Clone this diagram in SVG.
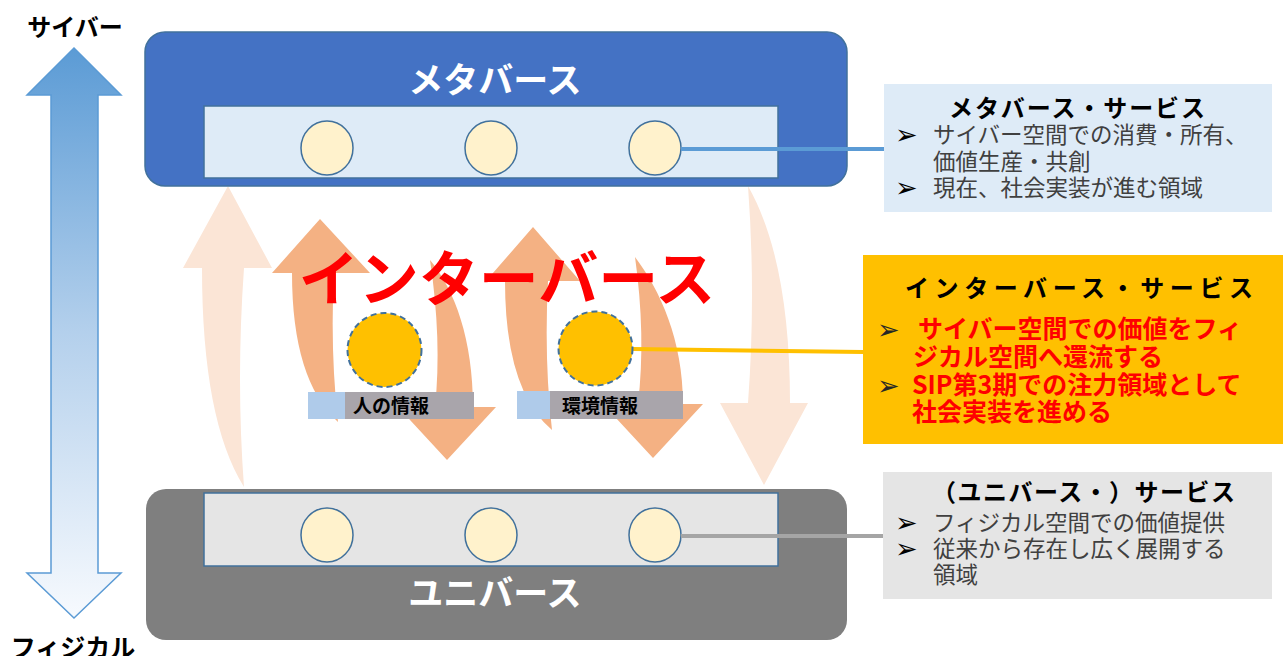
<svg xmlns="http://www.w3.org/2000/svg" width="1283" height="656" viewBox="0 0 1283 656">
<defs>
<linearGradient id="axisGrad" x1="0" y1="0" x2="0" y2="1">
<stop offset="0" stop-color="#5B9BD5"/>
<stop offset="0.5" stop-color="#B4D0EC"/>
<stop offset="1" stop-color="#F7FAFE"/>
</linearGradient>
<style>
.jp{font-family:"Noto Sans CJK JP","Noto Sans",sans-serif;}
.bul{font-family:"DejaVu Sans",sans-serif;font-size:27px;}
.pale{fill:#FBE5D6;}
.orng{fill:#F4B183;}
.soft{fill:#FFF2CC;stroke:#41719C;stroke-width:1.5;}
.info{fill:#FFC000;stroke:#41719C;stroke-width:2;stroke-dasharray:6 4;}
.ttl{font-weight:bold;font-size:24px;fill:#000;}
.body{font-size:22.5px;fill:#404040;}
.red{font-weight:bold;font-size:25px;fill:#FF0000;}
</style>
</defs>
<rect width="1283" height="656" fill="#FFFFFF"/>

<g id="axis">
<path d="M74,48 L121,95 L98,95 L98,573 L121,573 L74,618 L27,573 L51,573 L51,95 L27,95 Z" fill="url(#axisGrad)" stroke="#5B9BD5" stroke-width="1.5"/>
<text class="jp" x="75" y="36" text-anchor="middle" font-size="24" font-weight="bold" fill="#000">サイバー</text>
<text class="jp" x="73" y="657" text-anchor="middle" font-size="25" font-weight="bold" fill="#000">フィジカル</text>
</g>

<g id="flows">
<path class="pale" d="M228,186 L272,268 L244,268 Q236,380 244,487 Q202,420 202,268 L183,268 Z"/>
<path class="pale" d="M748,186 Q790,260 790,403 L808,403 L764,485 L720,403 L748,403 Q756,295 748,186 Z"/>
<path class="orng" d="M320,219 L370,273 L334,273 Q330,350 338,422 Q292,380 292,273 L272,273 Z"/>
<path class="orng" d="M430,260 C455,290 473,340 473,407 L496,407 L447,460 L398,407 L435,407 Q442,340 430,260 Z"/>
<path class="orng" d="M533,227 L580,281 L548,281 Q544,360 552,430 Q505,390 505,281 L486,281 Z"/>
<path class="orng" d="M635,257 C660,290 683,340 683,404 L703,404 L653,458 L603,404 L638,404 Q646,335 635,257 Z"/>
</g>

<g id="metaverse">
<rect x="145" y="32" width="702" height="154" rx="20" ry="20" fill="#4472C4" stroke="#41719C" stroke-width="1.5"/>
<text class="jp" x="495" y="93" text-anchor="middle" font-size="35" font-weight="bold" fill="#FFFFFF">メタバース</text>
<rect x="204" y="106" width="574" height="72" fill="#DEEBF7" stroke="#41719C" stroke-width="1.5"/>
<ellipse class="soft" cx="327" cy="148" rx="26" ry="27"/>
<ellipse class="soft" cx="491" cy="148" rx="26" ry="27"/>
<ellipse class="soft" cx="655" cy="148" rx="26" ry="27"/>
</g>

<g id="universe">
<rect x="146" y="489" width="701" height="151" rx="20" ry="20" fill="#7F7F7F"/>
<rect x="204" y="493" width="574" height="73" fill="#E5E5E5" stroke="#41719C" stroke-width="1.5"/>
<ellipse class="soft" cx="327" cy="535" rx="26" ry="27"/>
<ellipse class="soft" cx="491" cy="535" rx="26" ry="27"/>
<ellipse class="soft" cx="655" cy="535" rx="26" ry="27"/>
<text class="jp" x="495" y="606" text-anchor="middle" font-size="35" font-weight="bold" fill="#FFFFFF">ユニバース</text>
</g>

<g id="connectors">
<line x1="681" y1="149" x2="884" y2="149" stroke="#5B9BD5" stroke-width="4"/>
<line x1="633" y1="349" x2="863" y2="352" stroke="#FFC000" stroke-width="4"/>
<line x1="681" y1="536" x2="884" y2="536" stroke="#A5A5A5" stroke-width="4"/>
</g>

<g id="interverse-title">
<text class="jp" x="507" y="301" text-anchor="middle" font-size="60" font-weight="bold" fill="#FF0000">インターバース</text>
</g>

<g id="human-info">
<circle class="info" cx="384.5" cy="350" r="37"/>
<rect x="308" y="392" width="37" height="27" fill="#AFCBEA"/>
<rect x="345" y="392" width="129" height="27" fill="#A9A5AB"/>
<text class="jp" x="391" y="413" text-anchor="middle" font-size="19" font-weight="bold" fill="#000">人の情報</text>
</g>

<g id="env-info">
<circle class="info" cx="595.5" cy="348.5" r="37"/>
<rect x="517" y="391" width="33" height="28" fill="#AFCBEA"/>
<rect x="550" y="391" width="133" height="28" fill="#A9A5AB"/>
<text class="jp" x="600" y="413" text-anchor="middle" font-size="19" font-weight="bold" fill="#000">環境情報</text>
</g>

<g id="metaverse-service">
<rect x="884" y="84" width="388" height="128" fill="#DEEBF7"/>
<text class="jp ttl" x="949" y="117" textLength="256" lengthAdjust="spacing">メタバース・サービス</text>
<text class="bul" x="895" y="144" fill="#000">➢</text>
<text class="jp body" x="933" y="143">サイバー空間での消費・所有、</text>
<text class="jp body" x="933" y="170">価値生産・共創</text>
<text class="bul" x="895" y="197" fill="#000">➢</text>
<text class="jp body" x="933" y="196">現在、社会実装が進む領域</text>
</g>

<g id="interverse-service">
<rect x="863" y="255" width="420" height="189" fill="#FFC000"/>
<text class="jp ttl" x="905" y="297" font-size="27" textLength="348" lengthAdjust="spacing">インターバース・サービス</text>
<text class="bul" x="877" y="339" fill="#262626">➢</text>
<text class="jp red" x="918" y="338">サイバー空間での価値をフィ</text>
<text class="jp red" x="913" y="366">ジカル空間へ還流する</text>
<text class="bul" x="877" y="395" fill="#262626">➢</text>
<text class="jp red" x="912" y="394">SIP第3期での注力領域として</text>
<text class="jp red" x="912" y="421">社会実装を進める</text>
</g>

<g id="universe-service">
<rect x="883" y="472" width="389" height="127" fill="#E5E5E5"/>
<text class="jp ttl" x="932" y="501" textLength="303" lengthAdjust="spacing">（ユニバース・）サービス</text>
<text class="bul" x="895" y="532" fill="#000">➢</text>
<text class="jp body" x="933" y="531">フィジカル空間での価値提供</text>
<text class="bul" x="895" y="558" fill="#000">➢</text>
<text class="jp body" x="933" y="557">従来から存在し広く展開する</text>
<text class="jp body" x="933" y="583">領域</text>
</g>
</svg>
